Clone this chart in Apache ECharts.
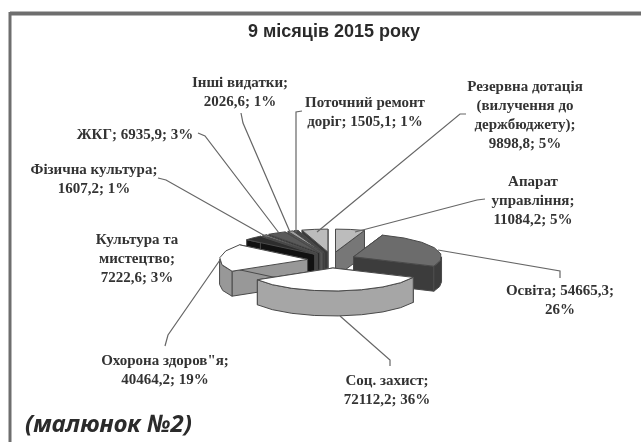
<!DOCTYPE html>
<html>
<head>
<meta charset="utf-8">
<title>9 місяців 2015 року</title>
<script src="https://cdn.jsdelivr.net/npm/echarts@6/dist/echarts.min.js"></script>
<style>
html, body { margin: 0; padding: 0; background: #fff; }
#chart { width: 641px; height: 442px; filter: blur(0.45px); }
</style>
</head>
<body>
<div id="chart"></div>
<script>
// slices go clockwise from 12 o'clock
const categories = ['Апарат управління', 'Освіта', 'Соц. захист', 'Охорона здоров"я', 'Культура та мистецтво',
  'Фізична культура', 'ЖКГ', 'Інші видатки', 'Поточний ремонт доріг', 'Резервна дотація (вилучення до держбюджету)']
const values = [11084.2, 54665.3, 72112.2, 40464.2, 7222.6, 1607.2, 6935.9, 2026.6, 1505.1, 9898.8]
const percents = [5, 26, 36, 19, 3, 1, 3, 1, 1, 5]
const labelLines = [
  'Апарат\nуправління;\n{v}; {p}%',
  'Освіта; {v};\n{p}%',
  'Соц. захист;\n{v}; {p}%',
  'Охорона здоров"я;\n{v}; {p}%',
  'Культура та\nмистецтво;\n{v}; {p}%',
  'Фізична культура;\n{v}; {p}%',
  'ЖКГ; {v}; {p}%',
  'Інші видатки;\n{v}; {p}%',
  'Поточний ремонт\nдоріг; {v}; {p}%',
  'Резервна дотація\n(вилучення до\nдержбюджету);\n{v}; {p}%'
]

// look of the pie
const topColors = ['#bcbcbc', '#6c6c6c', '#ffffff', '#ffffff', '#2e2e2e', '#8a8a8a', '#5a5a5a', '#a0a0a0', '#444444', '#bcbcbc']
const sideColors = ['#777777', '#3c3c3c', '#a6a6a6', '#989898', '#111111', '#444444', '#2a2a2a', '#555555', '#222222', '#3a3a3a']
const drawOrder = [9, 0, 8, 7, 6, 5, 4, 1, 3, 2]
const pie = { cx: 331.5, cy: 260, rx: 88, ry: 23, depth: 25, explodeX: 24, explodeY: 8 }

// label centre and leader line for every slice
const labelPos = [[533, 201], [560, 301], [387, 391], [165, 371], [137, 259], [94, 180], [135, 135], [240, 93], [365, 113], [525, 116]]
const leaders = [
  [[485, 199], [477, 200], [355, 232]],
  [[560, 278], [560, 271], [438, 250]],
  [[390, 366], [390, 360], [340, 316]],
  [[165, 346], [168, 335], [220, 260]],
  null,
  [[158, 178], [166, 180], [267, 237]],
  [[198, 133], [205, 136], [279, 233]],
  [[241, 113], [243, 123], [290, 232]],
  [[302, 111], [296, 112], [296, 232]],
  [[466, 114], [460, 114], [317, 232]]
]

const total = values.reduce((s, v) => s + v, 0)
const starts = []
values.reduce((acc, v, i) => {
  starts[i] = acc
  return acc + v / total * 360
}, 0)

const point = (apex, deg) => {
  const a = deg * Math.PI / 180
  return [apex[0] + pie.rx * Math.sin(a), apex[1] - pie.ry * Math.cos(a)]
}

// coarse arc, the original has visible corners
const arcPoints = (apex, from, to) => {
  const pts = []
  const steps = Math.max(2, Math.round((to - from) / 16))
  for (let k = 0; k <= steps; k++) {
    pts.push(point(apex, from + (to - from) * k / steps))
  }
  return pts
}

const renderSlice = (params, api) => {
  const i = api.value(0)
  const from = starts[i]
  const to = from + values[i] / total * 360
  const mid = (from + to) / 2 * Math.PI / 180
  const apex = [pie.cx + pie.explodeX * Math.sin(mid), pie.cy - pie.explodeY * Math.cos(mid)]
  const arc = arcPoints(apex, from, to)

  const down = p => [p[0], p[1] + pie.depth]
  const edge = { stroke: '#4a4a4a', lineWidth: 1, lineJoin: 'round' }
  const children = []
  const side = pts => children.push({
    type: 'polygon',
    shape: { points: pts.concat(pts.map(down).reverse()) },
    style: Object.assign({ fill: sideColors[i] }, edge)
  })
  side([apex, arc[0]])
  side([apex, arc[arc.length - 1]])
  // outer wall only shows on the front half
  const wallFrom = Math.max(from, 90)
  const wallTo = Math.min(to, 270)
  if (wallTo > wallFrom) {
    side(arcPoints(apex, wallFrom, wallTo))
  }
  children.push({
    type: 'polygon',
    shape: { points: [apex].concat(arc) },
    style: Object.assign({ fill: topColors[i] }, edge)
  })
  return { type: 'group', children }
}

const labelText = i => labelLines[i]
  .replace('{v}', String(values[i]).replace('.', ','))
  .replace('{p}', percents[i])

const graphics = [
  // frame runs off the right and bottom of the page
  { type: 'line', shape: { x1: 10, y1: 13.5, x2: 641, y2: 13.5 }, style: { stroke: '#6e6e6e', lineWidth: 4 } },
  { type: 'line', shape: { x1: 10, y1: 12, x2: 10, y2: 442 }, style: { stroke: '#6e6e6e', lineWidth: 3 } },
  {
    type: 'text', x: 334, y: 32,
    style: { text: '9 місяців 2015 року', font: 'bold 18px "Liberation Sans"', fill: '#2a2a2a', align: 'center', verticalAlign: 'middle' }
  },
  {
    type: 'text', x: 25, y: 425,
    style: { text: '(малюнок №2)', font: 'italic bold 24px "Noto Sans"', fill: '#2b2b2b', align: 'left', verticalAlign: 'middle' }
  }
]
leaders.forEach(l => {
  if (l) {
    graphics.push({ type: 'polyline', z: 5, shape: { points: l }, style: { stroke: '#666', lineWidth: 1.2, fill: null } })
  }
})
categories.forEach((name, i) => {
  graphics.push({
    type: 'text', z: 6, x: labelPos[i][0], y: labelPos[i][1],
    style: {
      text: labelText(i),
      font: 'bold 15px "Liberation Serif"',
      lineHeight: 19,
      fill: '#333',
      align: 'center',
      verticalAlign: 'middle'
    }
  })
})

const chart = echarts.init(document.getElementById('chart'))
chart.setOption({
  animation: false,
  backgroundColor: '#fff',
  graphic: graphics,
  series: [{
    type: 'custom',
    coordinateSystem: 'none',
    silent: true,
    encode: { value: 0 },
    data: drawOrder.map(i => [i, values[i]]),
    renderItem: renderSlice
  }]
})
</script>
</body>
</html>
